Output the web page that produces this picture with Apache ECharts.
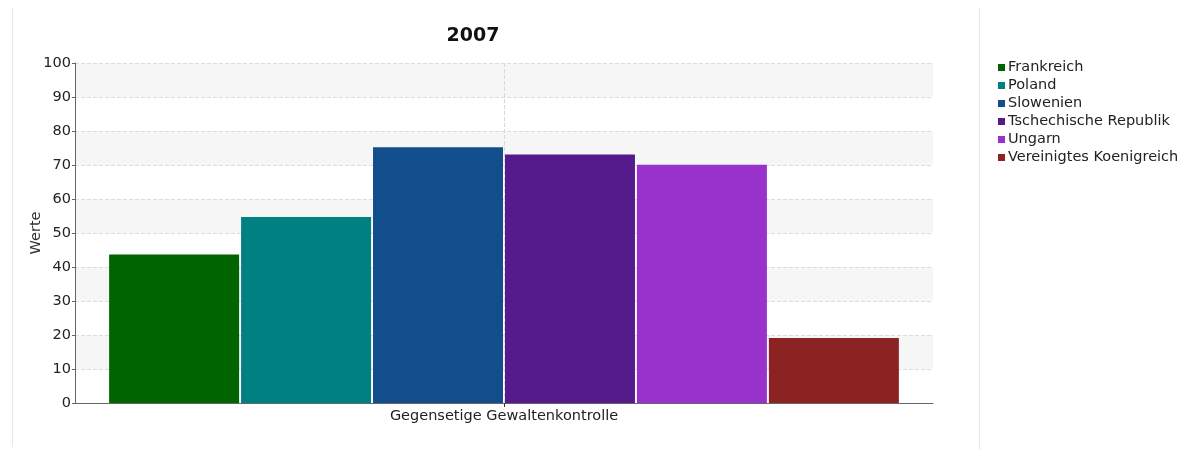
<!DOCTYPE html>
<html>
<head>
<meta charset="utf-8">
<script src="https://cdn.jsdelivr.net/npm/echarts@6/dist/echarts.min.js"></script>
<style>
  html, body { margin: 0; padding: 0; background: #fff; }
  #chart { width: 1191px; height: 450px; }
</style>
</head>
<body>
<div id="chart"></div>
<script>
// Chart data
const chartTitle = '2007';
const categories = ['Gegensetige Gewaltenkontrolle'];
const countries = ['Frankreich', 'Poland', 'Slowenien', 'Tschechische Republik', 'Ungarn', 'Vereinigtes Koenigreich'];
const values = [43.7, 54.7, 75.2, 73.1, 70.1, 19.1];
const yTicks = { min: 0, max: 100, step: 10 };

// One colour per country
const palette = ['#006400', '#008080', '#124e8c', '#551a8b', '#9932cc', '#8c2323'];

const FONT = '"DejaVu Sans", Arial, sans-serif';
const FS = 14.5;

const series = countries.map((name, i) => ({
  name: name,
  type: 'bar',
  data: [values[i]],
  barWidth: 130,
  barGap: '1.5%',
  z: 3,
  itemStyle: { color: palette[i] },
  emphasis: { disabled: true }
}));

// dashed vertical guide through the category centre, kept behind the bars
series.push({
  type: 'line',
  data: [null],
  z: 1,
  silent: true,
  showSymbol: false,
  markLine: {
    silent: true,
    symbol: 'none',
    label: { show: false },
    lineStyle: { type: 'dashed', color: '#d8d8d8', width: 1 },
    data: [{ xAxis: 0 }]
  }
});

const chart = echarts.init(document.getElementById('chart'));
chart.setOption({
  animation: false,
  color: palette,
  title: {
    text: chartTitle,
    left: 468,
    top: 22,
    textAlign: 'center',
    textStyle: { fontFamily: FONT, fontSize: 19, fontWeight: 'bold', color: '#111' }
  },
  legend: {
    orient: 'vertical',
    left: 993,
    top: 55,
    itemWidth: 7,
    itemHeight: 7,
    itemGap: 3,
    icon: 'rect',
    data: countries,
    textStyle: { fontFamily: FONT, fontSize: FS, color: '#222', lineHeight: FS, padding: [0, 0, 0, -2] }
  },
  grid: { left: 75, right: 258, top: 63, bottom: 47 },
  xAxis: {
    type: 'category',
    data: categories,
    axisLine: { lineStyle: { color: '#666', width: 1 } },
    axisTick: { show: true, alignWithLabel: true, length: 4, lineStyle: { color: '#333' } },
    axisLabel: { fontFamily: FONT, fontSize: FS, color: '#222', margin: 6 },
    splitLine: { show: false }
  },
  yAxis: {
    type: 'value',
    min: yTicks.min,
    max: yTicks.max,
    interval: yTicks.step,
    name: 'Werte',
    nameLocation: 'middle',
    nameGap: 31,
    nameMoveOverlap: false,
    nameTextStyle: { fontFamily: FONT, fontSize: FS, color: '#333' },
    axisLine: { show: true, lineStyle: { color: '#666', width: 1 } },
    axisTick: { show: true, length: 3, lineStyle: { color: '#666' } },
    axisLabel: { fontFamily: FONT, fontSize: FS, color: '#222', margin: 4 },
    splitLine: { show: true, lineStyle: { type: 'dashed', color: '#dcdcdc', width: 1 } },
    splitArea: { show: true, areaStyle: { color: ['#ffffff', '#f6f6f6'] } }
  },
  graphic: [
    { type: 'line', shape: { x1: 12.5, y1: 8, x2: 12.5, y2: 447 }, style: { stroke: '#e8e8e8', lineWidth: 1 } },
    { type: 'line', shape: { x1: 979.5, y1: 8, x2: 979.5, y2: 450 }, style: { stroke: '#e8e8e8', lineWidth: 1 } }
  ],
  series: series
});
</script>
</body>
</html>
